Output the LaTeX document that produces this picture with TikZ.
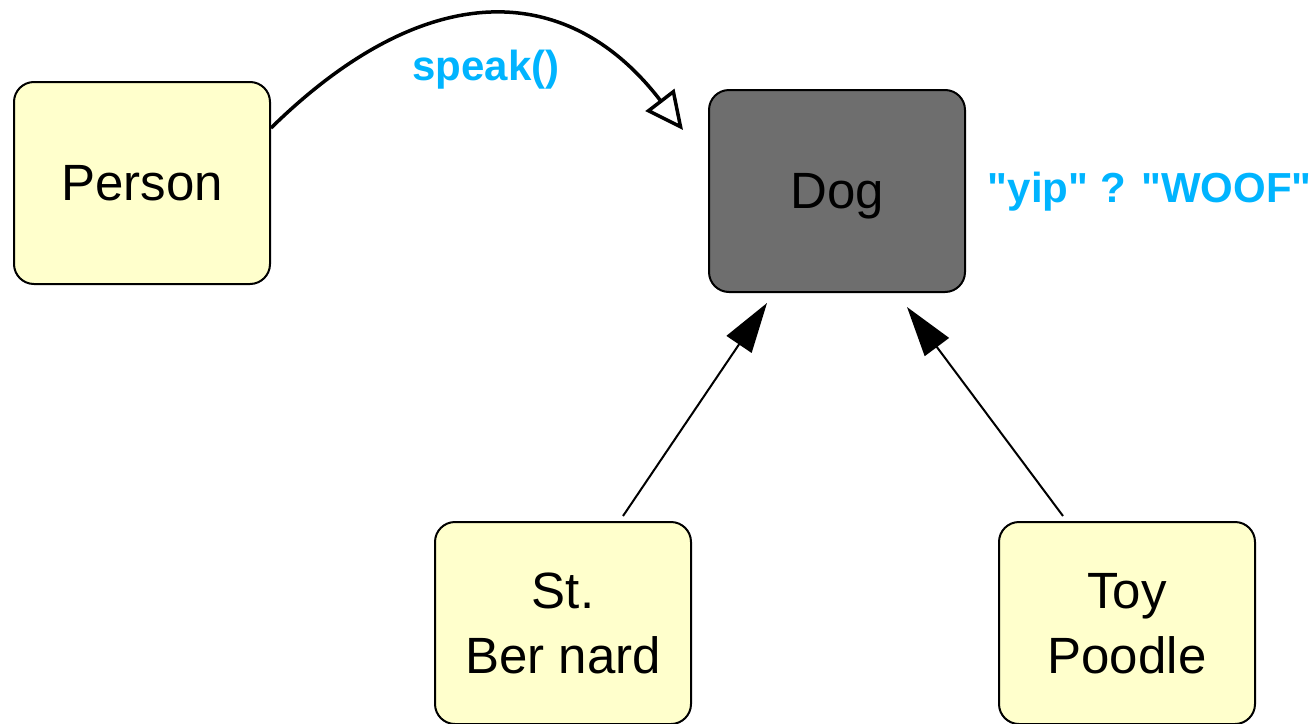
\documentclass[tikz,border=0pt]{standalone}
\usepackage{fontspec}
\setmainfont{Liberation Sans}
\newfontfamily\plainsans{Liberation Sans}
\usetikzlibrary{arrows.meta}
\definecolor{boxyellow}{HTML}{FFFFCC}
\definecolor{doggray}{HTML}{6E6E6E}
\definecolor{labelblue}{HTML}{00B4FF}
\begin{document}
\begin{tikzpicture}[x=1pt,y=-1pt,
  box/.style={draw=black, line width=2pt, rounded corners=20pt, fill=boxyellow,
    minimum width=256pt, minimum height=202pt, inner sep=0pt, align=center,
    font=\fontsize{51}{65}\selectfont, text depth=0pt},
  inherit/.style={line width=2pt, -{Triangle[length=50pt,width=30pt]}},
  call/.style={line width=3.5pt, -{Triangle[open,length=38pt,width=36pt]}},
  lbl/.style={text=labelblue, font=\plainsans\fontsize{42}{48}\bfseries\selectfont, inner sep=0pt}
]
\useasboundingbox (0,0) rectangle (1316,723);
\node[box] (person) at (142,183) {Person};
\node[box, fill=doggray] (dog) at (837,191) {Dog};
\node[box] (sb) at (563,623) {St.\\Ber nard};
\node[box] (tp) at (1127,623) {Toy\\Poodle};

\node[lbl, anchor=base] (speak) at (486,80) {speak()};
\node[lbl, anchor=base east] (yip) at (1312,202) {"yip" ? "WOOF"};

\draw[call] ([yshift=55pt]person.east) .. controls +(155,-152) and +(-115,-150) .. ([xshift=-25pt,yshift=61pt]dog.west);
\draw[inherit] ([xshift=60pt,yshift=5pt]sb.north) -- ([xshift=-70pt,yshift=-10pt]dog.south);
\draw[inherit] ([xshift=-64pt,yshift=5pt]tp.north) -- ([xshift=70pt,yshift=-14pt]dog.south);
\end{tikzpicture}
\end{document}
